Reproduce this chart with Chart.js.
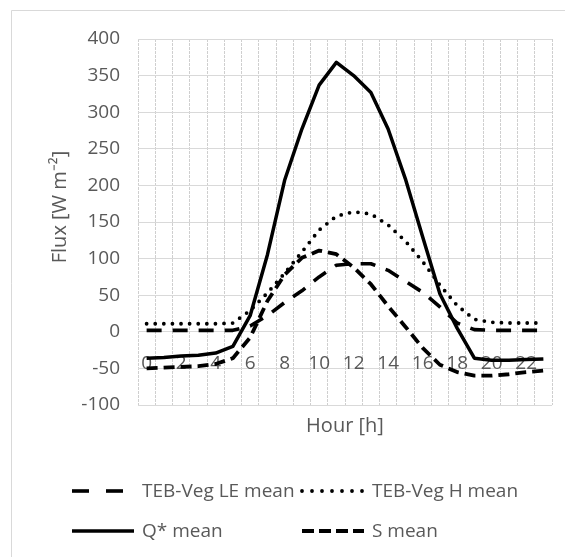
<!DOCTYPE html>
<html>
<head>
<meta charset="utf-8">
<script src="https://cdn.jsdelivr.net/npm/chart.js@4/dist/chart.umd.min.js"></script>
<style>
  html, body { margin: 0; padding: 0; background: #ffffff; }
  canvas { display: block; }
</style>
</head>
<body>
<canvas id="c" width="565" height="557"></canvas>
<script>
// ---- data ----
const hours = ['0','1','2','3','4','5','6','7','8','9','10','11','12','13','14','15','16','17','18','19','20','21','22','23'];
const leMean    = [2, 2, 2, 2, 2, 2, 8, 22, 40, 56, 75, 91, 93, 93, 84, 69, 54, 34, 12, 3, 2, 2, 2, 2];
const hMean     = [11, 11, 11, 11, 11, 12, 29, 53, 80, 109, 139, 158, 164, 161, 146, 124, 96, 64, 36, 17, 13, 12, 12, 12];
const qStarMean = [-36, -35, -33, -32, -29, -20, 22, 105, 207, 277, 337, 368, 350, 327, 277, 209, 130, 52, 5, -36, -39, -39, -38, -37];
const sMean     = [-50, -49, -48, -47, -44, -36, -8, 42, 78, 101, 111, 106, 88, 65, 35, 7, -22, -45, -55, -60, -60, -58, -55, -53];
const seriesNames = ['TEB-Veg LE mean', 'TEB-Veg H mean', 'Q* mean', 'S mean'];
const yMin = -100, yMax = 400, yStep = 50;
const xTitle = 'Hour [h]';
const yTitle = '\u2002\u2002\u2002Flux [W m\u207B\u00B2]';

const FONT = 'Open Sans';
const GREY = '#595959';

const framePlugin = {
  id: 'frame',
  beforeDraw(chart) {
    const ctx = chart.ctx;
    ctx.save();
    ctx.fillStyle = '#ffffff';
    ctx.fillRect(0, 0, chart.width, chart.height);
    ctx.strokeStyle = '#d9d9d9';
    ctx.lineWidth = 1;
    ctx.beginPath();
    ctx.moveTo(11.5, chart.height);
    ctx.lineTo(11.5, 10.5);
    ctx.lineTo(chart.width, 10.5);
    ctx.stroke();
    ctx.restore();
  }
};

const gridLegendPlugin = {
  id: 'gridLegend',
  afterDraw(chart) {
    const ctx = chart.ctx;
    const cols = [72, 302];
    const rows = [491, 531];
    const sample = 62;
    chart.data.datasets.forEach((ds, i) => {
      const x = cols[i % 2];
      const y = rows[Math.floor(i / 2)];
      ctx.save();
      ctx.strokeStyle = ds.borderColor;
      ctx.lineWidth = ds.borderWidth;
      ctx.lineCap = ds.borderCapStyle || 'butt';
      ctx.setLineDash(ds.legendDash || ds.borderDash || []);
      ctx.beginPath();
      ctx.moveTo(x, y);
      ctx.lineTo(x + sample, y);
      ctx.stroke();
      ctx.setLineDash([]);
      ctx.fillStyle = GREY;
      ctx.font = '19px "' + FONT + '"';
      ctx.textAlign = 'left';
      ctx.textBaseline = 'middle';
      ctx.fillText(ds.label, x + sample + 8, y + 1);
      ctx.restore();
    });
  }
};

const baseLine = {
  borderColor: '#000000',
  backgroundColor: '#000000',
  pointRadius: 0,
  pointHoverRadius: 0,
  fill: false,
  tension: 0,
  borderJoinStyle: 'round'
};

new Chart(document.getElementById('c'), {
  type: 'line',
  data: {
    labels: hours,
    datasets: [
      Object.assign({}, baseLine, { label: seriesNames[0], data: leMean, borderWidth: 3.6, borderDash: [15, 11], borderCapStyle: 'butt', legendDash: [17, 17] }),
      Object.assign({}, baseLine, { label: seriesNames[1], data: hMean, borderWidth: 3.8, borderDash: [0, 8.6], borderCapStyle: 'round', legendDash: [0, 10] }),
      Object.assign({}, baseLine, { label: seriesNames[2], data: qStarMean, borderWidth: 3.5, borderDash: [], borderCapStyle: 'butt' }),
      Object.assign({}, baseLine, { label: seriesNames[3], data: sMean, borderWidth: 3.8, borderDash: [11, 6], borderCapStyle: 'butt', legendDash: [12, 5] })
    ]
  },
  options: {
    responsive: false,
    animation: false,
    devicePixelRatio: 1,
    layout: { padding: { left: 0, top: 39, right: 13, bottom: 119 } },
    plugins: {
      legend: { display: false },
      tooltip: { enabled: false },
      title: { display: false }
    },
    scales: {
      x: {
        type: 'category',
        position: { y: 0 },
        offset: true,
        grid: { offset: true, color: '#cfcfcf', lineWidth: 1, drawTicks: false },
        border: { display: false, dash: [3, 1] },
        ticks: {
          autoSkip: false, maxRotation: 0, minRotation: 0, padding: 20,
          color: GREY, font: { family: FONT, size: 19 },
          callback(value, index) { return index % 2 === 0 ? hours[index] : ''; }
        }
      },
      x2: {
        type: 'category',
        position: 'bottom',
        offset: true,
        grid: { display: false, drawTicks: false },
        border: { display: false },
        ticks: { display: false },
        title: { display: true, text: xTitle, color: GREY, font: { family: FONT, size: 20 }, padding: 0 },
        afterFit(scale) { scale.height = 33; }
      },
      y: {
        type: 'linear',
        min: yMin, max: yMax,
        grid: { color: '#d9d9d9', lineWidth: 1, drawTicks: false },
        border: { display: false },
        ticks: { stepSize: yStep, padding: 18, color: GREY, font: { family: FONT, size: 19 } },
        title: { display: true, text: yTitle, color: GREY, font: { family: FONT, size: 20 }, padding: { top: 48, bottom: 0 } },
        afterFit(scale) { scale.width = 138; }
      }
    }
  },
  plugins: [framePlugin, gridLegendPlugin]
});
</script>
</body>
</html>
